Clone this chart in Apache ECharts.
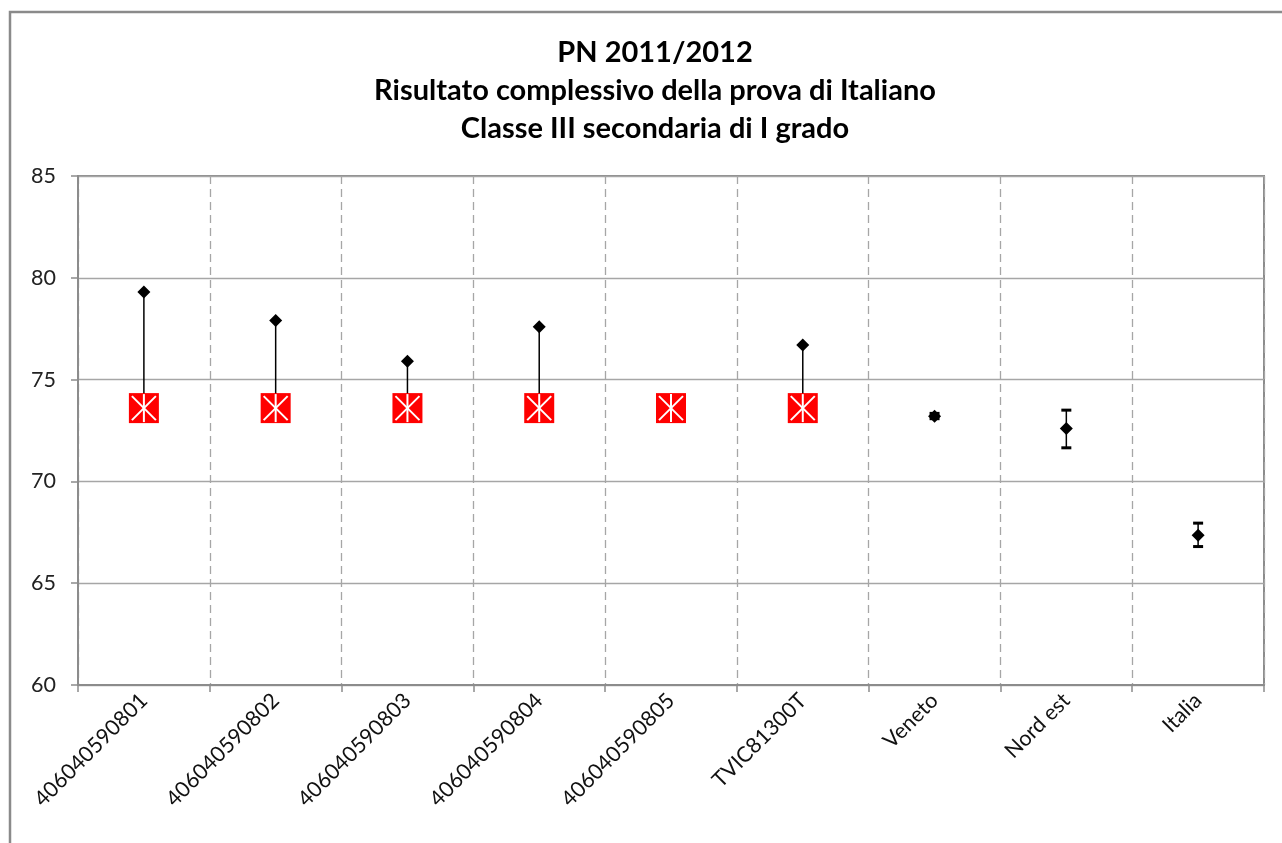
<!DOCTYPE html>
<html>
<head>
<meta charset="utf-8">
<title>PN 2011/2012</title>
<script src="https://cdn.jsdelivr.net/npm/echarts@6/dist/echarts.min.js"></script>
<style>
  html, body { margin: 0; padding: 0; background: #fff; }
  #main { width: 1282px; height: 843px; }
</style>
</head>
<body>
<div id="main"></div>
<script>
// categorie (scuole / classi e aree di confronto)
var categories = ['406040590801', '406040590802', '406040590803', '406040590804',
  '406040590805', 'TVIC81300T', 'Veneto', 'Nord est', 'Italia'];
// punteggio medio (rombo nero)
var scores = [79.3, 77.9, 75.9, 77.6, null, 76.7, 73.2, 72.6, 67.35];
// punteggio di riferimento (quadrato rosso)
var refScores = [73.6, 73.6, 73.6, 73.6, 73.6, 73.6, null, null, null];
// intervallo di confidenza per le aree
var errLow = [null, null, null, null, null, null, 73.08, 71.65, 66.8];
var errHigh = [null, null, null, null, null, null, 73.34, 73.5, 67.95];
var yTicks = [60, 65, 70, 75, 80, 85];

var myChart = echarts.init(document.getElementById('main'));

// linea verticale dal rombo al quadrato rosso
var dropData = [];
var markData = [];
var errData = [];
var dotData = [];
categories.forEach(function (c, i) {
  if (scores[i] != null && refScores[i] != null) dropData.push([i, scores[i], refScores[i]]);
  if (refScores[i] != null) markData.push([i, refScores[i]]);
  if (errLow[i] != null) errData.push([i, errLow[i], errHigh[i]]);
  if (scores[i] != null) dotData.push([i, scores[i]]);
});

myChart.setOption({
  backgroundColor: '#fff',
  animation: false,
  title: {
    text: 'PN 2011/2012\nRisultato complessivo della prova di Italiano\nClasse III secondaria di I grado',
    left: 650,
    top: 29,
    textAlign: 'center',
    textStyle: {
      fontFamily: 'Lato',
      fontSize: 29,
      fontWeight: 'bold',
      lineHeight: 38,
      color: '#000'
    }
  },
  graphic: [{
    type: 'rect',
    shape: { x: 10, y: 12, width: 1300, height: 900 },
    style: { fill: 'none', stroke: '#8a8a8a', lineWidth: 2.5 },
    silent: true
  }],
  grid: {
    left: 78,
    right: 18,
    top: 176,
    bottom: 158,
    show: true,
    borderColor: '#8c8c8c',
    borderWidth: 2
  },
  xAxis: {
    type: 'category',
    data: categories,
    boundaryGap: true,
    axisLine: { lineStyle: { color: '#8c8c8c', width: 2 } },
    axisTick: { show: true, length: 7, lineStyle: { color: '#8c8c8c', width: 1.5 } },
    axisLabel: {
      interval: 0,
      rotate: 45,
      margin: 12,
      fontFamily: 'Lato',
      fontSize: 21.5,
      color: '#111'
    },
    splitLine: { show: true, lineStyle: { color: '#a6a6a6', type: [8, 5], width: 1.3 } }
  },
  yAxis: {
    type: 'value',
    min: 60,
    max: 85,
    interval: 5,
    axisLine: { show: true, lineStyle: { color: '#8c8c8c', width: 2 } },
    axisTick: { show: true, length: 7, lineStyle: { color: '#8c8c8c', width: 1.5 } },
    axisLabel: {
      margin: 22,
      fontFamily: 'Lato',
      fontSize: 21.5,
      color: '#222',
      formatter: function (v) { return yTicks.indexOf(v) >= 0 ? String(v) : ''; }
    },
    splitLine: { show: true, lineStyle: { color: '#a6a6a6', width: 1.3 } }
  },
  series: [{
    name: 'collegamento',
    type: 'custom',
    z: 2,
    data: dropData,
    renderItem: function (params, api) {
      var p1 = api.coord([api.value(0), api.value(1)]);
      var p2 = api.coord([api.value(0), api.value(2)]);
      return {
        type: 'line',
        shape: { x1: p1[0], y1: p1[1], x2: p2[0], y2: p2[1] },
        style: { stroke: '#000', lineWidth: 1.5 }
      };
    }
  }, {
    name: 'riferimento',
    type: 'custom',
    z: 3,
    data: markData,
    renderItem: function (params, api) {
      var p = api.coord([api.value(0), api.value(1)]);
      var h = 15, g = 3;
      var white = { stroke: '#fff', lineWidth: 2 };
      return {
        type: 'group',
        children: [
          { type: 'rect', shape: { x: p[0] - h, y: p[1] - h, width: 2 * h, height: 2 * h }, style: { fill: '#ff0000' } },
          { type: 'line', shape: { x1: p[0] - h + g, y1: p[1] - h + g, x2: p[0] + h - g, y2: p[1] + h - g }, style: white },
          { type: 'line', shape: { x1: p[0] + h - g, y1: p[1] - h + g, x2: p[0] - h + g, y2: p[1] + h - g }, style: white },
          { type: 'line', shape: { x1: p[0], y1: p[1] - h + 1, x2: p[0], y2: p[1] + h - 1 }, style: white }
        ]
      };
    }
  }, {
    name: 'intervallo',
    type: 'custom',
    z: 2,
    data: errData,
    renderItem: function (params, api) {
      var lo = api.coord([api.value(0), api.value(1)]);
      var hi = api.coord([api.value(0), api.value(2)]);
      var w = 5;
      var st = { stroke: '#000', lineWidth: 1.5 };
      var cap = { stroke: '#000', lineWidth: 3 };
      return {
        type: 'group',
        children: [
          { type: 'line', shape: { x1: lo[0], y1: lo[1], x2: hi[0], y2: hi[1] }, style: st },
          { type: 'line', shape: { x1: lo[0] - w, y1: lo[1], x2: lo[0] + w, y2: lo[1] }, style: cap },
          { type: 'line', shape: { x1: hi[0] - w, y1: hi[1], x2: hi[0] + w, y2: hi[1] }, style: cap }
        ]
      };
    }
  }, {
    name: 'punteggio',
    type: 'scatter',
    z: 4,
    symbol: 'diamond',
    symbolSize: [13, 13],
    itemStyle: { color: '#000', opacity: 1 },
    data: dotData
  }]
});
</script>
</body>
</html>
